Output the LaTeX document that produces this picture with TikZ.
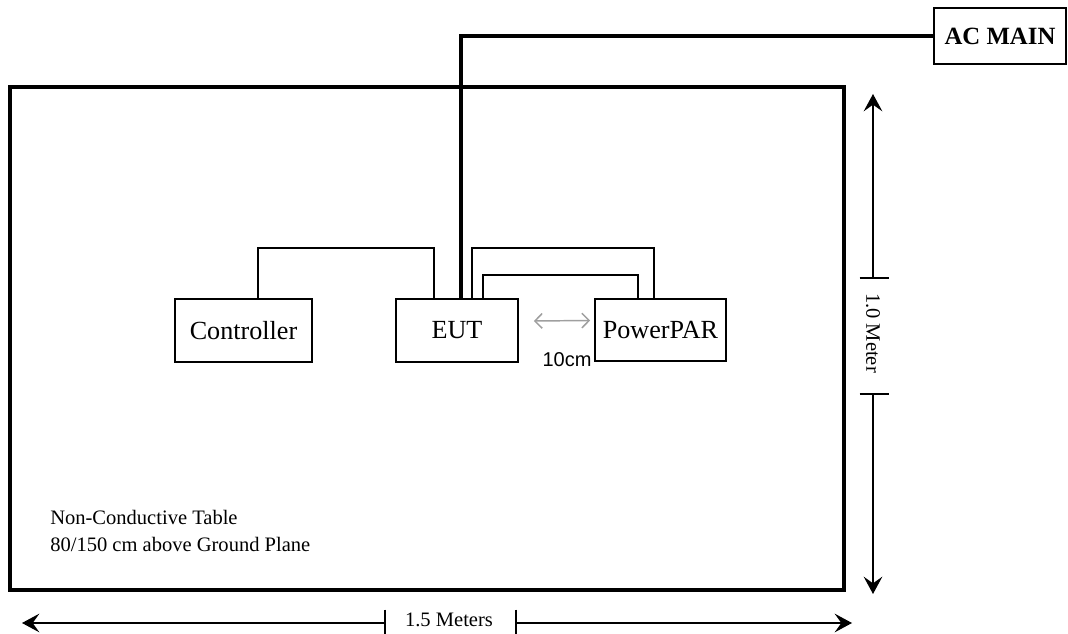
\documentclass[tikz,border=0pt]{standalone}
\usepackage{fontspec}
\setmainfont{Liberation Serif}
\newfontfamily\arialfont{Liberation Sans}
\usetikzlibrary{arrows.meta,calc}
\tikzset{
  boxnode/.style={draw, line width=1.2pt, inner sep=0pt, font=\fontsize{19.6}{22}\selectfont},
  wire/.style={line width=1.2pt},
  mainwire/.style={line width=2.6pt},
  dimhalf/.style={line width=0.9pt},
  dimlabel/.style={font=\fontsize{15.4}{18}\selectfont, inner sep=0pt},
  grayarrow/.style={draw=gray!75, line width=1.1pt, {Straight Barb[length=5.5pt,width=11pt]}-{Straight Barb[length=5.5pt,width=11pt]}}
}
\begin{document}
\begin{tikzpicture}[x=0.75pt,y=-0.75pt]
\useasboundingbox (0,0) rectangle (1068,634);
% table
\node[draw, line width=2.4pt, minimum width=834*0.75pt, minimum height=503*0.75pt, inner sep=0pt] (table) at (427,338.5) {};
\node[anchor=north west, align=left, inner sep=0pt, font=\fontsize{15.4}{20.5}\selectfont] (tabletext) at (50,510) {Non-Conductive Table\\80/150 cm above Ground Plane};
% boxes
\node[boxnode, minimum width=137*0.75pt, minimum height=63*0.75pt] (ctrl) at (243.5,330.5) {Controller};
\node[boxnode, minimum width=122*0.75pt, minimum height=63*0.75pt] (eut) at (457,330.5) {EUT};
\node[boxnode, minimum width=131*0.75pt, minimum height=62*0.75pt] (pp) at (660.5,330) {PowerPAR};
\node[boxnode, minimum width=132*0.75pt, minimum height=56*0.75pt, font=\bfseries\fontsize{18.6}{21}\selectfont] (ac) at (1000,36) {AC MAIN};
% connectors
\draw[mainwire] (ac.west) -| ([xshift=3pt]eut.north);
\draw[wire] ([xshift=10.9pt]ctrl.north) -- ++(0,-50) -| ([xshift=-17.25pt]eut.north);
\draw[wire] ([xshift=11.25pt]eut.north) -- ++(0,-50) -| ([xshift=-4.9pt]pp.north);
\draw[wire] ([xshift=19.5pt]eut.north) -- ++(0,-23) -| ([xshift=-16.9pt]pp.north);
\draw[grayarrow] ([shift={(15,-9.5)}]eut.east) -- ([shift={(-4,-9.5)}]pp.west);
\node[font=\arialfont\fontsize{15}{18}\selectfont, inner sep=0pt] (tencm) at (567,360) {10cm};
% vertical dimension
\coordinate (vtop) at (873,94);
\coordinate (vbot) at (873,594);
\node[dimlabel, rotate=-90] (vlab) at (873,333) {1.0 Meter};
\coordinate (vt1) at (873,278);
\coordinate (vt2) at (873,394);
\draw[dimhalf, -{Stealth[length=13pt,width=14pt,inset=5pt]}] (vt1) -- (vtop);
\draw[dimhalf, -{Stealth[length=13pt,width=14pt,inset=5pt]}] (vt2) -- (vbot);
\draw[dimhalf] ([xshift=-10pt]vt1) -- ([xshift=12pt]vt1);
\draw[dimhalf] ([xshift=-10pt]vt2) -- ([xshift=12pt]vt2);
% horizontal dimension
\coordinate (hl) at (22,623);
\coordinate (hr) at (852,623);
\coordinate (ht1) at (385,623);
\coordinate (ht2) at (516,623);
\node[dimlabel] (hlab) at (449,620) {1.5 Meters};
\draw[dimhalf, -{Stealth[length=13pt,width=14pt,inset=5pt]}] (ht1) -- (hl);
\draw[dimhalf, -{Stealth[length=13pt,width=14pt,inset=5pt]}] (ht2) -- (hr);
\draw[dimhalf] ([yshift=10pt]ht1) -- ([yshift=-8pt]ht1);
\draw[dimhalf] ([yshift=10pt]ht2) -- ([yshift=-8pt]ht2);
\end{tikzpicture}
\end{document}
